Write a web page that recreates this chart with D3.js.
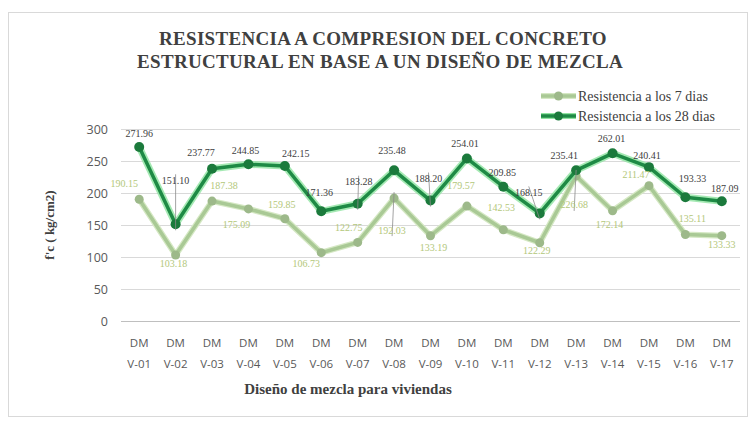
<!DOCTYPE html>
<html><head><meta charset="utf-8">
<script src="https://cdn.jsdelivr.net/npm/d3@7"></script>
<style>html,body{margin:0;padding:0;background:#fff;}svg{display:block;}</style>
</head><body>
<svg id="chart" width="751" height="421"></svg>
<script>
const categories = ["DM V-01","DM V-02","DM V-03","DM V-04","DM V-05","DM V-06","DM V-07","DM V-08","DM V-09","DM V-10","DM V-11","DM V-12","DM V-13","DM V-14","DM V-15","DM V-16","DM V-17"];
const dias7 = [190.15,103.18,187.38,175.09,159.85,106.73,122.75,192.03,133.19,179.57,142.53,122.29,226.68,172.14,211.47,135.11,133.33];
const dias28 = [271.96,151.10,237.77,244.85,242.15,171.36,183.28,235.48,188.20,254.01,209.85,168.15,235.41,262.01,240.41,193.33,187.09];
const yTicks = [0,50,100,150,200,250,300];
const seriesNames = ["Resistencia a los 7 dias","Resistencia a los 28 dias"];
// label placement (offsets from point, px) and leader flags
const off28 = [[0,-13],[0,-44,1],[-11,-16],[-3,-14],[11,-13],[-2,-19],[1,-22,1],[-2,-20],[-2,-22,1],[-2,-15],[-1,-14],[-11,-21,1],[-12,-15],[-1,-15],[-2,-12],[7,-19],[3,-13]];
const off7 = [[-15,-16],[-2,9],[12,-16],[-12,16],[-3,-14],[-15,11],[-9,-15],[-2,32,1],[3,12],[-6,-21],[-2,-22],[-3,8],[-2,29,1],[-3,14],[-13,-11],[7,-16],[0,9]];

const svg = d3.select("#chart");
svg.append("rect").attr("x",8.5).attr("y",12.5).attr("width",739).attr("height",404)
  .attr("fill","#fff").attr("stroke","#d9d9d9").attr("stroke-width",1);

const x = d3.scaleBand().domain(categories).range([121,740]);
const cx = d => x(d) + x.bandwidth()/2;
const y = d3.scaleLinear().domain([0,300]).range([321,129]);

// gridlines
svg.append("g").selectAll("line").data(yTicks).join("line")
  .attr("x1",121).attr("x2",740).attr("y1",d=>y(d)+0.5).attr("y2",d=>y(d)+0.5)
  .attr("stroke",d=>d===0?"#bfbfbf":"#d9d9d9").attr("stroke-width",1);

// y axis labels
const yAxis = d3.axisLeft(y).tickValues(yTicks).tickSize(0).tickPadding(0);
const gy = svg.append("g").attr("transform","translate(108,0)").call(yAxis);
gy.select(".domain").remove();
gy.selectAll("text").attr("font-family","'Open Sans', sans-serif").attr("font-size",12.5).attr("fill","#595959");

// x axis labels
const xAxis = d3.axisBottom(x).tickSize(0).tickFormat("");
const gx = svg.append("g").attr("transform","translate(0,321)").call(xAxis);
gx.select(".domain").remove();
gx.selectAll(".tick").each(function(d){
  const parts = d.split(" ");
  const t = d3.select(this).append("text").attr("fill","#595959")
    .attr("font-family","'Open Sans', sans-serif").attr("font-size",11.5).attr("text-anchor","middle");
  t.append("tspan").attr("x",0).attr("y",26).text(parts[0]);
  t.append("tspan").attr("x",0).attr("y",47).text(parts[1]);
});

// lines
const line = d3.line().x((d,i)=>cx(categories[i])).y(d=>y(d));
svg.append("path").datum(dias7).attr("d",line).attr("fill","none").attr("stroke","#d5e8c4").attr("stroke-width",6).attr("stroke-linejoin","round");
svg.append("path").datum(dias7).attr("d",line).attr("fill","none").attr("stroke","#a9c995").attr("stroke-width",3.5).attr("stroke-linejoin","round");
svg.selectAll(".m7").data(dias7).join("circle").attr("class","m7")
  .attr("cx",(d,i)=>cx(categories[i])).attr("cy",d=>y(d)).attr("r",4.5).attr("fill","#9db98a");

svg.append("path").datum(dias28).attr("d",line).attr("fill","none").attr("stroke","#8fe3a0").attr("stroke-width",7).attr("stroke-linejoin","round").attr("opacity",0.8);
svg.append("path").datum(dias28).attr("d",line).attr("fill","none").attr("stroke","#1e8a45").attr("stroke-width",3.5).attr("stroke-linejoin","round");
svg.selectAll(".m28").data(dias28).join("circle").attr("class","m28")
  .attr("cx",(d,i)=>cx(categories[i])).attr("cy",d=>y(d)).attr("r",5).attr("fill","#1b7a3c");

// data labels
function labels(data, offs, color, cls){
  data.forEach((v,i)=>{
    const px = cx(categories[i]), py = y(v);
    const o = offs[i];
    if (o[2]) {
      const dir = Math.sign(o[1]);
      svg.append("line").attr("x1",px+o[0]).attr("y1",py+o[1]-dir*-6)
        .attr("x2",px).attr("y2",py-dir*6).attr("stroke","#8c8c8c").attr("stroke-width",0.8);
    }
    svg.append("text").attr("class",cls).attr("x",px+o[0]).attr("y",py+o[1])
      .attr("dy","0.35em").attr("text-anchor","middle")
      .attr("font-family","'Liberation Serif', serif").attr("font-size",10)
      .attr("fill",color).text(v.toFixed(2));
  });
}
labels(dias7, off7, "#b3c77a", "l7");
labels(dias28, off28, "#404040", "l28");

// title
const title = svg.append("text").attr("text-anchor","middle").attr("font-family","'Liberation Serif', serif")
  .attr("font-weight","bold").attr("font-size",19).attr("letter-spacing",0.3).attr("fill","#404040");
title.append("tspan").attr("x",383).attr("y",45).text("RESISTENCIA A COMPRESION DEL CONCRETO");
title.append("tspan").attr("x",380).attr("y",68).text("ESTRUCTURAL EN BASE A UN DISEÑO DE MEZCLA");

// legend
const leg = [{name:seriesNames[0],c:"#a9c995",m:"#9db98a",glow:"#d5e8c4",w:3.5,y:96},{name:seriesNames[1],c:"#1e8a45",m:"#1b7a3c",glow:"#8fe3a0",w:3.5,y:116}];
const lg = svg.append("g");
leg.forEach(l=>{
  lg.append("line").attr("x1",541).attr("x2",576).attr("y1",l.y).attr("y2",l.y).attr("stroke",l.glow).attr("stroke-width",6);
  lg.append("line").attr("x1",541).attr("x2",576).attr("y1",l.y).attr("y2",l.y).attr("stroke",l.c).attr("stroke-width",l.w);
  lg.append("circle").attr("cx",558.5).attr("cy",l.y).attr("r",4.5).attr("fill",l.m);
  lg.append("text").attr("x",578).attr("y",l.y).attr("dy","0.35em").attr("font-family","'Liberation Serif', serif")
    .attr("font-size",14).attr("fill","#404040").text(l.name);
});

// axis titles
svg.append("text").attr("transform","translate(54,225) rotate(-90)").attr("text-anchor","middle")
  .attr("font-family","'Liberation Serif', serif").attr("font-weight","bold").attr("font-size",13).attr("fill","#404040")
  .text("f'c ( kg/cm2)");
svg.append("text").attr("x",348).attr("y",394).attr("text-anchor","middle")
  .attr("font-family","'Liberation Serif', serif").attr("font-weight","bold").attr("font-size",15).attr("fill","#404040")
  .text("Diseño de mezcla para viviendas");
</script>
</body></html>
